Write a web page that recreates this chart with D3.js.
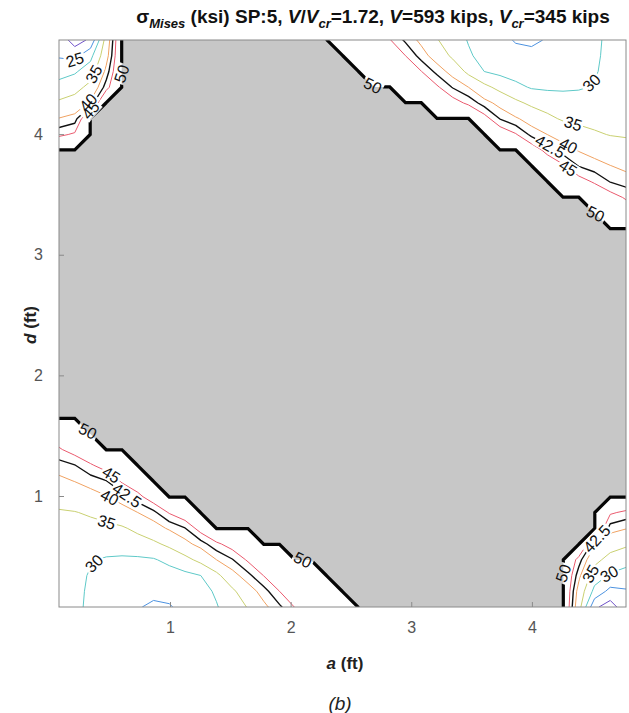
<!DOCTYPE html>
<html>
<head>
<meta charset="utf-8">
<script src="https://cdn.jsdelivr.net/npm/d3@7"></script>
<style>
  body { margin: 0; background: #fff; }
  svg text { font-family: "Liberation Sans", Arial, Helvetica, sans-serif; }
</style>
</head>
<body>
<svg id="chart" width="629" height="713"></svg>
<script>
// ---- data -------------------------------------------------------------
// Study domain (ft) and grid of analysis points (37 x 37).
const aDomain = [0.08, 4.78];
const dDomain = [0.08, 4.78];
const gridCount = 37;

// Contour levels (ksi) and their colours; yield stress Fy.
const levels      = [20, 25, 30, 35, 40, 42.5, 45];
const levelColors = ["#6f52c8", "#4c92e0", "#5ec9c8", "#c9d071", "#f0a262", "#111111", "#ea5a6e"];
const levelWidths = [1, 1, 1, 1, 1, 1.4, 1];
const yieldStress = 50;

const aTicks = [1, 2, 3, 4];
const dTicks = [1, 2, 3, 4];

// Elastic von Mises stress (ksi) per grid row, row 0 at d = 0.08 ft.
// stressLeft[j]  : nodes i = 0 .. from the left edge up to the yielded band
// stressRight[j] : nodes from the yielded band up to the right edge (i = 36)
// Nodes not listed have yielded (sigma = Fy).
const stressLeft = [
  [32.0, 30.8, 29.3, 27.9, 26.6, 25.4, 24.0, 24.6, 26.4, 28.1, 29.7, 32.3, 35.3, 39.2, 42.0, 45.2, 46.4, 47.6, 48.8],
  [32.0, 30.8, 29.5, 28.4, 27.5, 26.8, 26.4, 26.5, 27.2, 28.5, 30.6, 34.0, 38.3, 41.4, 45.0, 46.3, 47.5, 48.8],
  [32.3, 31.0, 29.7, 28.8, 28.2, 27.8, 27.7, 28.0, 28.8, 30.0, 33.7, 38.7, 41.7, 45.1, 46.4, 47.6, 48.8],
  [32.6, 31.4, 30.3, 29.6, 29.3, 29.3, 29.6, 31.2, 33.5, 36.4, 40.0, 42.3, 45.5, 47.0, 48.5],
  [33.3, 32.6, 32.0, 31.8, 32.1, 32.8, 34.0, 36.1, 38.9, 41.3, 44.3, 46.5, 48.2],
  [33.9, 33.6, 33.5, 33.7, 34.4, 36.2, 38.4, 40.5, 42.4, 46.5],
  [34.6, 34.8, 35.6, 37.0, 38.6, 40.0, 41.8, 45.3, 47.6],
  [36.6, 37.7, 38.7, 39.8, 41.3, 43.9, 47.2],
  [39.2, 40.1, 41.2, 42.4, 45.5, 47.8],
  [41.4, 42.4, 44.6, 46.5, 48.2],
  [44.6, 46.5, 48.3],
  [47.4, 48.7],
  [], [], [], [], [], [], [], [], [], [], [], [], [], [], [], [], [], [],
  [44.3, 45.5],
  [40.2, 41.3],
  [35.8, 37.2, 40.6],
  [31.8, 33.2, 36.5, 43.8],
  [28.1, 29.4, 32.5, 41.0],
  [24.5, 23.5, 28.6, 38.5],
  [23.5, 17.5, 21.0, 37.2]
];
const stressRight = [
  [37.2, 21.0, 17.5, 23.5],
  [38.5, 28.6, 23.5, 24.5],
  [41.0, 32.5, 29.4, 28.1],
  [43.8, 36.5, 33.2, 31.8],
  [40.6, 37.2, 35.8],
  [41.3, 40.2],
  [45.5, 44.3],
  [], [], [], [], [], [], [], [], [], [], [], [], [], [], [], [], [], [],
  [48.7, 47.4],
  [48.3, 46.5, 44.6],
  [48.2, 46.5, 44.6, 42.4, 41.4],
  [47.8, 45.5, 42.4, 41.2, 40.1, 39.2],
  [47.2, 43.9, 41.3, 39.8, 38.7, 37.7, 36.6],
  [47.6, 45.3, 41.8, 40.0, 38.6, 37.0, 35.6, 34.8, 34.6],
  [46.5, 42.4, 40.5, 38.4, 36.2, 34.4, 33.7, 33.5, 33.6, 33.9],
  [48.2, 46.5, 44.3, 41.3, 38.9, 36.1, 34.0, 32.8, 32.1, 31.8, 32.0, 32.6, 33.3],
  [48.5, 47.0, 45.5, 42.3, 40.0, 36.4, 33.5, 31.2, 29.6, 29.3, 29.3, 29.6, 30.3, 31.4, 32.6],
  [48.8, 47.6, 46.4, 45.1, 41.7, 38.7, 33.7, 30.0, 28.8, 28.0, 27.7, 27.8, 28.2, 28.8, 29.7, 31.0, 32.3],
  [48.8, 47.5, 46.3, 45.0, 41.4, 38.3, 34.0, 30.6, 28.5, 27.2, 26.5, 26.4, 26.8, 27.5, 28.4, 29.5, 30.8, 32.0],
  [48.8, 47.6, 46.4, 45.2, 42.0, 39.2, 35.3, 32.3, 29.7, 28.1, 26.4, 24.6, 24.0, 25.4, 26.6, 27.9, 29.3, 30.8, 32.0]
];

// Where the inline contour labels sit (ft).
const labelSpots = [
  { level: 50,   a: 0.31, d: 1.53 },
  { level: 45,   a: 0.50, d: 1.16 },
  { level: 42.5, a: 0.64, d: 1.00 },
  { level: 40,   a: 0.50, d: 0.99 },
  { level: 35,   a: 0.48, d: 0.80 },
  { level: 30,   a: 0.36, d: 0.45 },
  { level: 50,   a: 2.10, d: 0.45 },
  { level: 50,   a: 2.70, d: 4.42 },
  { level: 50,   a: 4.52, d: 3.33 },
  { level: 30,   a: 4.50, d: 4.42 },
  { level: 35,   a: 4.34, d: 4.08 },
  { level: 40,   a: 4.30, d: 3.90 },
  { level: 42.5, a: 4.14, d: 3.88 },
  { level: 45,   a: 4.30, d: 3.72 },
  { level: 50,   a: 0.52, d: 4.50 },
  { level: 25,   a: 0.20, d: 4.62 },
  { level: 35,   a: 0.32, d: 4.52 },
  { level: 40,   a: 0.24, d: 4.36 },
  { level: 45,   a: 0.30, d: 4.24 },
  { level: 50,   a: 4.36, d: 0.36 },
  { level: 42.5, a: 4.58, d: 0.60 },
  { level: 35,   a: 4.52, d: 0.34 },
  { level: 30,   a: 4.62, d: 0.38 },
  { level: 20,   a: 4.66, d: 0.22 }
];

// ---- layout -----------------------------------------------------------
const svg = d3.select("#chart");
const plot = { left: 59, right: 626, top: 40, bottom: 607 };
const x = d3.scaleLinear().domain(aDomain).range([plot.left, plot.right]);
const y = d3.scaleLinear().domain(dDomain).range([plot.bottom, plot.top]);
const step = (aDomain[1] - aDomain[0]) / (gridCount - 1);

// Assemble the grid (row-major, first row = top edge) and the yield mask.
const stress = new Array(gridCount * gridCount);
const yielded = new Array(gridCount * gridCount);
for (let j = 0; j < gridCount; j++) {
  const r = gridCount - 1 - j;
  const L = stressLeft[j], R = stressRight[j];
  const rStart = gridCount - R.length;
  for (let i = 0; i < gridCount; i++) {
    let v = null;
    if (i < L.length) v = L[i];
    else if (i >= rStart) v = R[i - rStart];
    stress[r * gridCount + i] = v === null ? yieldStress : v;
    yielded[r * gridCount + i] = v === null ? 1 : 0;
  }
}

// Contour grid coordinates -> pixels.
const gridToData = (cx, cy) => [aDomain[0] + (cx - 0.5) * step, dDomain[1] - (cy - 0.5) * step];
const toPixel = d3.geoTransform({
  point(cx, cy) {
    const [a, d] = gridToData(cx, cy);
    this.stream.point(x(a), y(d));
  }
});
const path = d3.geoPath(toPixel);
const contourGen = d3.contours().size([gridCount, gridCount]);

const defs = svg.append("defs");
defs.append("clipPath").attr("id", "plotClip")
  .append("rect")
  .attr("x", plot.left).attr("y", plot.top)
  .attr("width", plot.right - plot.left).attr("height", plot.bottom - plot.top);
const gapMask = defs.append("mask").attr("id", "labelGaps")
  .attr("maskUnits", "userSpaceOnUse")
  .attr("x", 0).attr("y", 0).attr("width", 629).attr("height", 713);
gapMask.append("rect").attr("x", 0).attr("y", 0).attr("width", 629).attr("height", 713).attr("fill", "#fff");

const plotG = svg.append("g").attr("clip-path", "url(#plotClip)");
plotG.append("rect")
  .attr("x", plot.left).attr("y", plot.top)
  .attr("width", plot.right - plot.left).attr("height", plot.bottom - plot.top)
  .attr("fill", "#fff");

const linesG = plotG.append("g").attr("mask", "url(#labelGaps)");

// Coloured stress contours.
const levelGeoms = {};
levels.forEach((lv, k) => {
  const g = contourGen.thresholds([lv])(stress)[0];
  levelGeoms[lv] = g;
  linesG.append("path")
    .attr("d", path(g))
    .attr("fill", "none")
    .attr("stroke", levelColors[k])
    .attr("stroke-width", levelWidths[k])
    .attr("stroke-linejoin", "round");
});

// Yielded region (sigma = Fy) and its boundary.
const yieldGeom = contourGen.thresholds([0.98])(yielded)[0];
levelGeoms[yieldStress] = yieldGeom;
plotG.append("path")
  .attr("d", path(yieldGeom))
  .attr("fill", "#c7c7c7")
  .attr("stroke", "none");
plotG.append("g").attr("mask", "url(#labelGaps)")
  .append("path")
  .attr("d", path(yieldGeom))
  .attr("fill", "none")
  .attr("stroke", "#050505")
  .attr("stroke-width", 3.2)
  .attr("stroke-linejoin", "miter");

// Inline labels: nearest point on the level's contour, rotated along it.
function pixelRings(geom) {
  const rings = [];
  geom.coordinates.forEach(poly => poly.forEach(ring => {
    rings.push(ring.map(([cx, cy]) => {
      const [a, d] = gridToData(cx, cy);
      return [x(a), y(d)];
    }));
  }));
  return rings;
}
const inside = p => p[0] > plot.left + 2 && p[0] < plot.right - 2 && p[1] > plot.top + 2 && p[1] < plot.bottom - 2;

const labelG = svg.append("g");
labelSpots.forEach(s => {
  const rings = pixelRings(levelGeoms[s.level]);
  const tx = x(s.a), ty = y(s.d);
  let best = null;
  rings.forEach(ring => {
    const n = ring.length;
    for (let k = 0; k < n - 1; k++) {
      const p = ring[k], q = ring[k + 1];
      if (!inside(p) || !inside(q)) continue;
      const dx = q[0] - p[0], dy = q[1] - p[1];
      const len2 = dx * dx + dy * dy || 1;
      let t = ((tx - p[0]) * dx + (ty - p[1]) * dy) / len2;
      t = Math.max(0, Math.min(1, t));
      const px = p[0] + t * dx, py = p[1] + t * dy;
      const dist = Math.hypot(px - tx, py - ty);
      if (!best || dist < best.dist) {
        const k0 = Math.max(0, k - 1), k1 = Math.min(n - 1, k + 2);
        best = { dist, px, py, ang: Math.atan2(ring[k1][1] - ring[k0][1], ring[k1][0] - ring[k0][0]) * 180 / Math.PI };
      }
    }
  });
  if (!best) return;
  let ang = best.ang;
  if (ang > 90) ang -= 180;
  if (ang < -90) ang += 180;
  const t = labelG.append("text")
    .attr("transform", `translate(${best.px},${best.py}) rotate(${ang})`)
    .attr("text-anchor", "middle")
    .attr("dy", "0.35em")
    .attr("font-size", 16)
    .attr("fill", "#111")
    .text(String(s.level));
  const w = t.node().getComputedTextLength() + 3;
  gapMask.append("rect")
    .attr("x", -w / 2).attr("y", -7)
    .attr("width", w).attr("height", 14)
    .attr("fill", "#000")
    .attr("transform", `translate(${best.px},${best.py}) rotate(${ang})`);
});

// ---- axes -------------------------------------------------------------
const axisColor = "#8a8a8a";
const axesG = svg.append("g");
axesG.append("rect")
  .attr("x", plot.left).attr("y", plot.top)
  .attr("width", plot.right - plot.left).attr("height", plot.bottom - plot.top)
  .attr("fill", "none").attr("stroke", axisColor).attr("stroke-width", 1);

const fmt = d3.format("d");
const xAxis = d3.axisBottom(x).tickValues(aTicks).tickFormat(fmt).tickSizeInner(-5).tickSizeOuter(0).tickPadding(15);
const yAxis = d3.axisLeft(y).tickValues(dTicks).tickFormat(fmt).tickSizeInner(-5).tickSizeOuter(0).tickPadding(16);
const gx = axesG.append("g").attr("transform", `translate(0,${plot.bottom})`).call(xAxis);
const gy = axesG.append("g").attr("transform", `translate(${plot.left},0)`).call(yAxis);
[gx, gy].forEach(g => {
  g.select(".domain").remove();
  g.selectAll(".tick line").attr("stroke", axisColor);
  g.selectAll(".tick text").attr("fill", "#555").attr("font-size", 16)
    .attr("font-family", "'Liberation Sans', Arial, sans-serif");
});

// Axis titles
const xt = svg.append("text").attr("x", 345).attr("y", 669)
  .attr("text-anchor", "middle").attr("font-size", 17).attr("font-weight", "bold").attr("fill", "#222");
xt.append("tspan").attr("font-style", "italic").text("a");
xt.append("tspan").text(" (ft)");
const yt = svg.append("text").attr("transform", "translate(36,325) rotate(-90)")
  .attr("text-anchor", "middle").attr("font-size", 17).attr("font-weight", "bold").attr("fill", "#222");
yt.append("tspan").attr("font-style", "italic").text("d");
yt.append("tspan").text(" (ft)");

// Chart title
const title = svg.append("text").attr("x", 373).attr("y", 23)
  .attr("text-anchor", "middle").attr("font-size", 19).attr("font-weight", "bold").attr("fill", "#111");
title.append("tspan").text("σ");
title.append("tspan").attr("font-size", 13).attr("font-style", "italic").attr("dy", 5).text("Mises");
title.append("tspan").attr("dy", -5).text(" (ksi) SP:5, ");
title.append("tspan").attr("font-style", "italic").text("V");
title.append("tspan").text("/");
title.append("tspan").attr("font-style", "italic").text("V");
title.append("tspan").attr("font-size", 13).attr("font-style", "italic").attr("dy", 5).text("cr");
title.append("tspan").attr("dy", -5).text("=1.72, ");
title.append("tspan").attr("font-style", "italic").text("V");
title.append("tspan").text("=593 kips, ");
title.append("tspan").attr("font-style", "italic").text("V");
title.append("tspan").attr("font-size", 13).attr("font-style", "italic").attr("dy", 5).text("cr");
title.append("tspan").attr("dy", -5).text("=345 kips");

// Panel caption
svg.append("text").attr("x", 340).attr("y", 710)
  .attr("text-anchor", "middle").attr("font-size", 19).attr("font-style", "italic")
  .attr("font-family", "'Liberation Serif', 'Times New Roman', serif").attr("fill", "#222")
  .text("(b)");
</script>
</body>
</html>
